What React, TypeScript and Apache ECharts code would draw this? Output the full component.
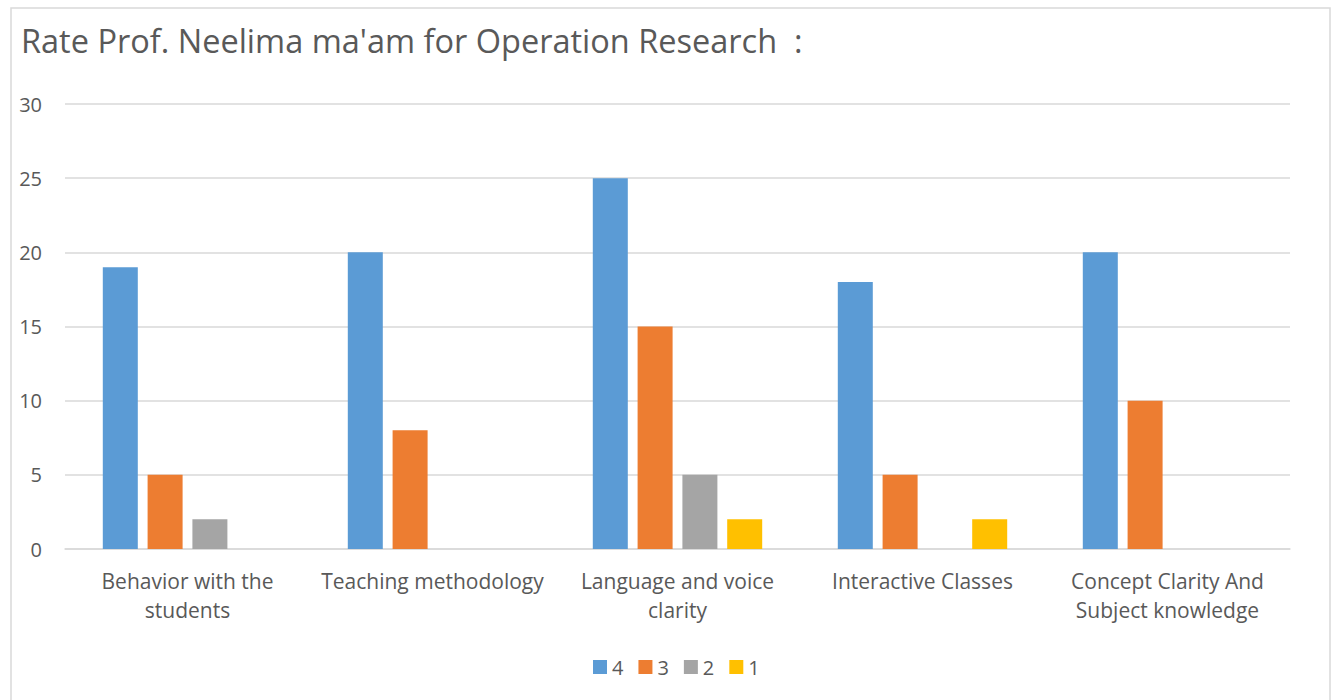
import React, { useEffect, useRef } from "react";
import * as echarts from "echarts";

const categories = [
  "Behavior with the\nstudents",
  "Teaching methodology",
  "Language and voice\nclarity",
  "Interactive Classes",
  "Concept Clarity And\nSubject knowledge",
];
const seriesNames = ["4", "3", "2", "1"];
const values4 = [19, 20, 25, 18, 20];
const values3 = [5, 8, 15, 5, 10];
const values2 = [2, 0, 5, 0, 0];
const values1 = [0, 0, 2, 2, 0];
const colors = ["#5B9BD5", "#ED7D31", "#A5A5A5", "#FFC000"];
const title = "Rate Prof. Neelima ma'am for Operation Research  :";

export default function App() {
  const ref = useRef<HTMLDivElement>(null);
  useEffect(() => {
    if (!ref.current) return;
    const chart = echarts.init(ref.current, null, { renderer: "svg" });
    const font = "'Open Sans', sans-serif";
    const data = [values4, values3, values2, values1];
    chart.setOption({
      animation: false,
      backgroundColor: "#ffffff",
      textStyle: { fontFamily: font },
      title: {
        text: title,
        left: 16,
        top: 19,
        textStyle: { fontFamily: font, fontSize: 32.5, fontWeight: "normal", color: "#595959" },
      },
      graphic: [
        {
          type: "rect",
          shape: { x: 11, y: 8, width: 1319, height: 700 },
          style: { fill: "none", stroke: "#d9d9d9", lineWidth: 1.5 },
          silent: true,
        },
      ],
      legend: {
        data: seriesNames,
        top: 652,
        left: 588,
        itemWidth: 14,
        itemHeight: 14,
        itemGap: 15,
        icon: "rect",
        textStyle: { fontFamily: font, fontSize: 20, color: "#595959" },
      },
      grid: { left: 65, right: 45, top: 104, bottom: 151, containLabel: false },
      xAxis: {
        type: "category",
        data: categories,
        axisLine: { show: true, lineStyle: { color: "#d9d9d9", width: 1.5 } },
        axisTick: { show: false },
        axisLabel: {
          interval: 0,
          margin: 17,
          fontFamily: font,
          fontSize: 21,
          lineHeight: 29,
          color: "#595959",
          align: "center",
        },
      },
      yAxis: {
        type: "value",
        min: 0,
        max: 30,
        interval: 5,
        axisLine: { show: false },
        axisTick: { show: false },
        splitLine: { lineStyle: { color: "#d9d9d9", width: 1.5 } },
        axisLabel: { fontFamily: font, fontSize: 20, color: "#595959", margin: 23 },
      },
      series: seriesNames.map((name, i) => ({
        name,
        type: "bar",
        data: data[i],
        barWidth: 35,
        barGap: "28%",
        itemStyle: { color: colors[i] },
      })),
    });
    return () => chart.dispose();
  }, []);
  return (
    <div
      ref={ref}
      style={{ position: "fixed", left: 0, top: 0, width: 1335, height: 700 }}
    />
  );
}
